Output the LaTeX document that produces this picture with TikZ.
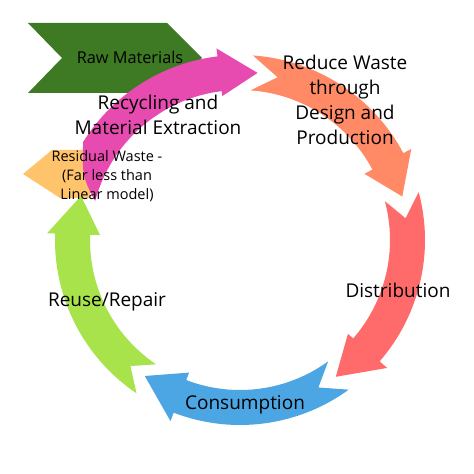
\documentclass[tikz,border=0pt]{standalone}
\usepackage{fontspec}
\setmainfont{Open Sans}
\usetikzlibrary{positioning}

\definecolor{rawgreen}{RGB}{61,122,35}
\definecolor{recpink}{RGB}{231,75,176}
\definecolor{redorange}{RGB}{255,138,101}
\definecolor{distred}{RGB}{255,107,107}
\definecolor{consblue}{RGB}{77,166,228}
\definecolor{reusegreen}{RGB}{169,227,75}
\definecolor{resorange}{RGB}{255,195,107}

\begin{document}
\begin{tikzpicture}[x=1pt,y=1pt,
  lbl/.style={align=center,font=\fontsize{19}{25}\selectfont},
  small/.style={align=center,font=\fontsize{14.5}{19}\selectfont}]
 \useasboundingbox (-240,-234) rectangle (234,240);
 % raw materials chevron
 \fill[rawgreen](-212,217)--(-73,217)--(-38,182)--(-73,147)--(-212,147)--(-178,182)--cycle;
 % residual waste
 \fill[resorange](-217,66)--(-188,90)--(-150,90)--(-150,42)--(-180,42)--cycle;
 % ring arrows
 \fill[reusegreen](236:185) arc[start angle=236,end angle=178,radius=185]--(178:193)--(164.5:165)--(178:140)--(178:150) arc[start angle=178,end angle=236,radius=150]--(229:167)--cycle;
 \fill[consblue](-54:185) arc[start angle=-54,end angle=-111,radius=185]--(-111:194)--(-125:166)--(-111:142)--(-111:150) arc[start angle=-111,end angle=-54,radius=150]--(-62:167)--cycle;
 \fill[distred](15:185) arc[start angle=15,end angle=-41,radius=185]--(-41:195)--(-55:167)--(-41:143)--(-41:150) arc[start angle=-41,end angle=15,radius=150]--(7.5:167)--cycle;
 \fill[redorange](86:185) arc[start angle=86,end angle=28,radius=185]--(28:194)--(15:168)--(28:141)--(28:150) arc[start angle=28,end angle=86,radius=150]--(77:167)--cycle;
 \fill[recpink](165:150) .. controls (158:170) .. (148:185) arc[start angle=148,end angle=97,radius=185]--(97:193)--(84:168)--(97:145)--(97:150) arc[start angle=97,end angle=165,radius=150]--cycle;
 % labels
 \node[lbl,font=\fontsize{16.3}{25}\selectfont] (raw) at (-110,183) {Raw Materials};
 \node[lbl] (reduce) at (105,140) {Reduce Waste\\through\\Design and\\Production};
 \node[lbl] (recycle) at (-82,125) {Recycling and\\Material Extraction};
 \node[small] (residual) at (-133,64) {Residual Waste -\\(Far less than\\Linear model)};
 \node[lbl] (distrib) at (158,-50) {Distribution};
 \node[lbl] (consum) at (5,-165) {Consumption};
 \node[lbl] (reuse) at (-133,-62) {Reuse/Repair};
\end{tikzpicture}
\end{document}
